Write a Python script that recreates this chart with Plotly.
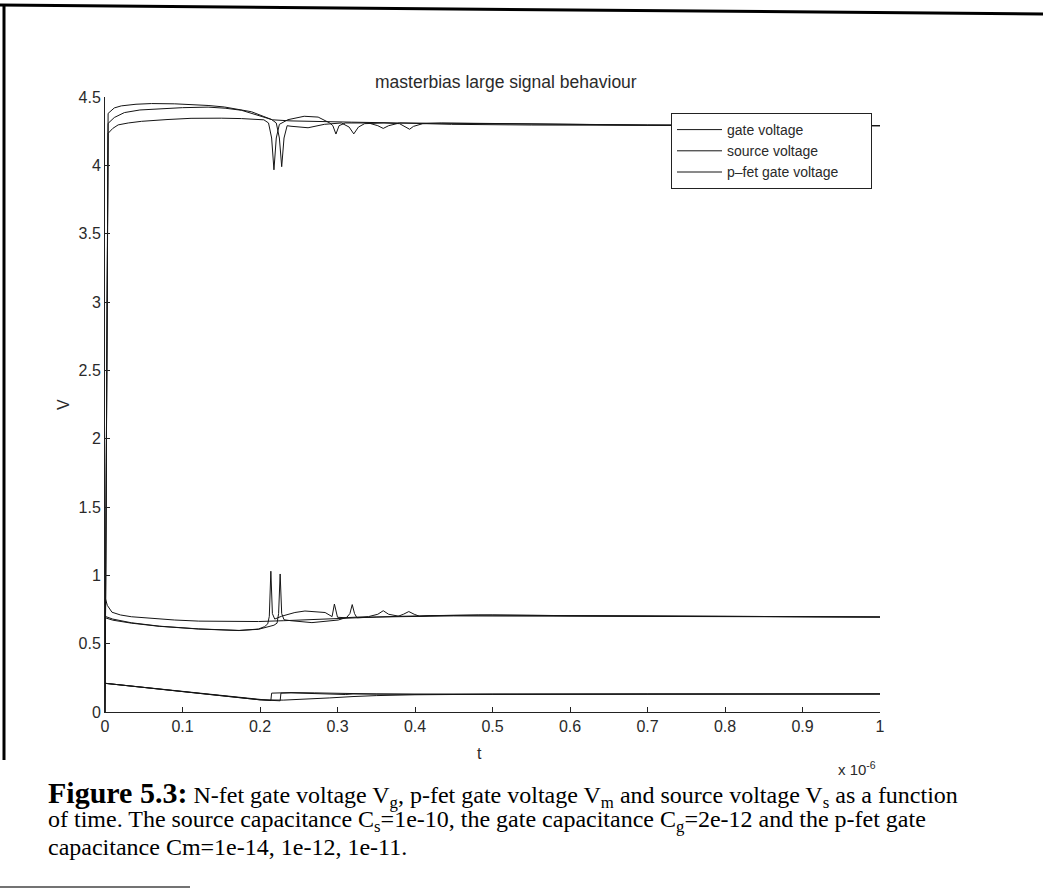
import plotly.graph_objects as go

# ---------------- data (time in units of 1e-6 s, voltage in V) ----------------
# p-fet gate voltage Vm, three values of Cm
t_vm_a = [0, 0.003, 0.004, 0.012, 0.021, 0.04, 0.06, 0.09, 0.111, 0.133, 0.154, 0.175, 0.189, 0.205,
          0.216, 0.24, 0.27, 0.318, 0.38, 0.447, 0.55, 0.705, 0.85, 1.0]
v_vm_a = [0, 4.15, 4.38, 4.42, 4.435, 4.447, 4.452, 4.45, 4.446, 4.438, 4.427, 4.408, 4.392, 4.357,
          4.333, 4.325, 4.32, 4.316, 4.31, 4.30, 4.295, 4.29, 4.29, 4.29]

t_vm_b = [0, 0.003, 0.004, 0.012, 0.025, 0.045, 0.068, 0.1, 0.133, 0.155, 0.176, 0.205, 0.215, 0.221,
          0.225, 0.228, 0.231, 0.235, 0.24, 0.262, 0.283, 0.305, 0.315, 0.321, 0.327, 0.335, 0.36,
          0.38, 0.388, 0.393, 0.398, 0.41, 0.434, 0.5, 0.7, 1.0]
v_vm_b = [0, 4.1, 4.307, 4.35, 4.386, 4.405, 4.414, 4.422, 4.426, 4.418, 4.403, 4.35, 4.335, 4.31,
          4.2, 3.99, 4.2, 4.29, 4.286, 4.275, 4.30, 4.31, 4.28, 4.23, 4.28, 4.305, 4.31,
          4.305, 4.28, 4.264, 4.285, 4.305, 4.31, 4.305, 4.295, 4.29]

t_vm_c = [0, 0.003, 0.004, 0.01, 0.017, 0.03, 0.047, 0.08, 0.111, 0.15, 0.176, 0.205, 0.211, 0.215,
          0.218, 0.221, 0.225, 0.236, 0.257, 0.275, 0.29, 0.294, 0.298, 0.302, 0.31, 0.34, 0.352,
          0.359, 0.366, 0.38, 0.434, 0.5, 0.7, 1.0]
v_vm_c = [0, 4.1, 4.234, 4.27, 4.296, 4.31, 4.322, 4.335, 4.344, 4.345, 4.342, 4.333, 4.31, 4.2,
          3.967, 4.2, 4.3, 4.334, 4.359, 4.353, 4.31, 4.29, 4.229, 4.29, 4.31, 4.31, 4.29,
          4.27, 4.29, 4.31, 4.31, 4.305, 4.295, 4.29]

# n-fet gate voltage Vg
t_vg_a = [0, 0.003, 0.009, 0.02, 0.034, 0.06, 0.09, 0.121, 0.16, 0.198, 0.23, 0.26, 0.3, 0.35,
          0.45, 0.6, 0.8, 1.0]
v_vg_a = [0.84, 0.78, 0.73, 0.71, 0.697, 0.684, 0.673, 0.665, 0.662, 0.662, 0.668, 0.675, 0.685, 0.695,
          0.703, 0.70, 0.697, 0.695]

t_vg_b = [0, 0.01, 0.034, 0.07, 0.121, 0.173, 0.198, 0.21, 0.218, 0.222, 0.224, 0.226, 0.228, 0.231,
          0.24, 0.267, 0.301, 0.312, 0.316, 0.319, 0.322, 0.325, 0.35, 0.378, 0.385, 0.392, 0.399,
          0.406, 0.418, 0.482, 0.6, 0.8, 1.0]
v_vg_b = [0.70, 0.68, 0.653, 0.628, 0.608, 0.597, 0.605, 0.62, 0.635, 0.65, 0.72, 1.01, 0.72, 0.675,
          0.668, 0.654, 0.673, 0.693, 0.72, 0.786, 0.72, 0.69, 0.695, 0.70, 0.715, 0.735, 0.715,
          0.70, 0.705, 0.71, 0.705, 0.70, 0.695]

t_vg_c = [0, 0.01, 0.034, 0.07, 0.121, 0.173, 0.198, 0.206, 0.21, 0.212, 0.214, 0.216, 0.219, 0.228,
          0.245, 0.258, 0.284, 0.293, 0.296, 0.3, 0.31, 0.34, 0.352, 0.359, 0.366, 0.38, 0.42,
          0.5, 0.6, 0.8, 1.0]
v_vg_c = [0.69, 0.672, 0.65, 0.627, 0.607, 0.596, 0.607, 0.625, 0.645, 0.70, 1.03, 0.72, 0.68, 0.701,
          0.728, 0.739, 0.728, 0.698, 0.79, 0.693, 0.69, 0.698, 0.715, 0.741, 0.715, 0.70, 0.705,
          0.71, 0.705, 0.70, 0.695]

# source voltage Vs
t_vs_a = [0, 0.05, 0.101, 0.15, 0.2, 0.23, 0.26, 0.29, 0.32, 0.35, 0.4, 0.5, 0.7, 1.0]
v_vs_a = [0.21, 0.18, 0.148, 0.118, 0.089, 0.087, 0.093, 0.103, 0.113, 0.12, 0.126, 0.13, 0.132, 0.132]

t_vs_b = [0, 0.05, 0.101, 0.15, 0.2, 0.226, 0.227, 0.24, 0.27, 0.29, 0.31, 0.32, 0.35, 0.4, 0.5,
          0.7, 1.0]
v_vs_b = [0.21, 0.18, 0.148, 0.118, 0.089, 0.082, 0.138, 0.14, 0.135, 0.13, 0.128, 0.132, 0.13, 0.13,
          0.13, 0.132, 0.132]

t_vs_c = [0, 0.05, 0.101, 0.15, 0.2, 0.214, 0.215, 0.24, 0.27, 0.3, 0.35, 0.4, 0.5, 0.7, 1.0]
v_vs_c = [0.21, 0.18, 0.148, 0.118, 0.089, 0.084, 0.138, 0.142, 0.14, 0.136, 0.132, 0.13, 0.13,
          0.132, 0.132]

legend_names = ["gate voltage", "source voltage", "p\u2013fet gate voltage"]
x_ticks = [0, 0.1, 0.2, 0.3, 0.4, 0.5, 0.6, 0.7, 0.8, 0.9, 1.0]
y_ticks = [0, 0.5, 1, 1.5, 2, 2.5, 3, 3.5, 4, 4.5]

# ---------------- figure ----------------
W, H = 1043, 892
L, R, T, B = 105, 880, 97, 712  # plot area in pixels


def px(x):
    return (x - L) / (R - L)


def py(y):
    return (B - y) / (B - T)


SANS = "Liberation Sans, Arial, Helvetica"
TXT = "#2a2a2a"
LINE = dict(color="#151515", width=1)
fig = go.Figure()

groups = [
    (legend_names[0], [(t_vg_a, v_vg_a), (t_vg_b, v_vg_b), (t_vg_c, v_vg_c)]),
    (legend_names[1], [(t_vs_a, v_vs_a), (t_vs_b, v_vs_b), (t_vs_c, v_vs_c)]),
    (legend_names[2], [(t_vm_a, v_vm_a), (t_vm_b, v_vm_b), (t_vm_c, v_vm_c)]),
]
for name, series in groups:
    label = name + ("\u00a0" * 7 if name == legend_names[2] else "")
    for i, (tt, vv) in enumerate(series):
        fig.add_trace(go.Scatter(x=tt, y=vv, mode="lines", line=LINE, name=label,
                                 legendgroup=name, showlegend=(i == 0)))

tickfont = dict(family=SANS, size=16, color=TXT)
axis_common = dict(ticks="inside", ticklen=5, tickcolor="#222", showline=True, linecolor="#222",
                   linewidth=1, showgrid=False, zeroline=False, tickfont=tickfont)
fig.update_xaxes(range=[0, 1], tickvals=x_ticks, ticktext=[f"{v:g}" for v in x_ticks], **axis_common)
fig.update_yaxes(range=[0, 4.5], tickvals=y_ticks, ticktext=[f"{v:g}" for v in y_ticks], **axis_common)

fig.update_layout(
    width=W, height=H,
    margin=dict(l=L, r=W - R, t=T, b=H - B, pad=0),
    paper_bgcolor="white", plot_bgcolor="white",
    showlegend=True,
    legend=dict(x=px(671), y=py(113), xanchor="left", yanchor="top",
                bgcolor="white", bordercolor="#222", borderwidth=1,
                font=dict(family=SANS, size=14, color=TXT),
                tracegroupgap=0, itemwidth=45),
    font=dict(family=SANS, color=TXT),
)

ann = []
ann.append(dict(text="masterbias large signal behaviour", x=px(506), y=py(82), xref="paper", yref="paper",
                showarrow=False, xanchor="center", yanchor="middle",
                font=dict(family=SANS, size=17.5, color=TXT)))
ann.append(dict(text="V", x=px(64), y=py(405), xref="paper", yref="paper", textangle=-90,
                showarrow=False, xanchor="center", yanchor="middle",
                font=dict(family=SANS, size=16, color=TXT)))
ann.append(dict(text="t", x=px(479), y=py(753), xref="paper", yref="paper",
                showarrow=False, xanchor="center", yanchor="middle",
                font=dict(family=SANS, size=16, color=TXT)))
ann.append(dict(text="x 10<sup>-6</sup>", x=px(836), y=py(768), xref="paper", yref="paper",
                showarrow=False, xanchor="left", yanchor="middle",
                font=dict(family=SANS, size=15, color=TXT)))

cap_font = dict(family="Liberation Serif, Times New Roman", size=24, color="black")
captions = [
    ("<b><span style='font-size:30px'>Figure 5.3:</span></b> N-fet gate voltage V<sub>g</sub>, "
     "p-fet gate voltage V<sub>m</sub> and source voltage V<sub>s</sub> as a function", 794),
    ("of time. The source capacitance C<sub>s</sub>=1e-10, the gate capacitance C<sub>g</sub>=2e-12 "
     "and the p-fet gate", 821),
    ("capacitance Cm=1e-14, 1e-12, 1e-11.", 847),
]
for txt, yy in captions:
    ann.append(dict(text=txt, x=px(46), y=py(yy), xref="paper", yref="paper", showarrow=False,
                    xanchor="left", yanchor="middle", align="left", font=cap_font))
fig.update_layout(annotations=ann)

# scanned page border lines
shapes = [
    dict(type="line", xref="paper", yref="paper", x0=px(0), y0=py(5), x1=px(W), y1=py(14),
         line=dict(color="black", width=3)),
    dict(type="line", xref="paper", yref="paper", x0=px(4), y0=py(4), x1=px(4), y1=py(760),
         line=dict(color="black", width=3)),
    dict(type="line", xref="paper", yref="paper", x0=px(0), y0=py(887), x1=px(190), y1=py(887),
         line=dict(color="#444", width=1.5)),
]
fig.update_layout(shapes=shapes)

fig.write_html("out.html")
